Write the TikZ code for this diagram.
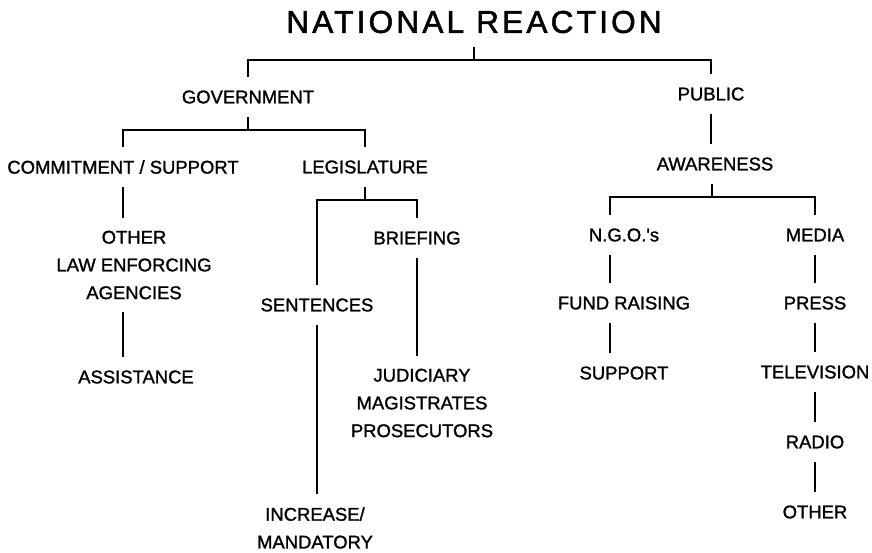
\documentclass[tikz,border=0pt]{standalone}
\usepackage{fontspec}
\setmainfont{Liberation Sans}
\newfontfamily\titlefont[LetterSpace=10,FakeBold=1.6]{Liberation Sans}
\newfontfamily\lblfont[FakeBold=1.3]{Liberation Sans}
\usetikzlibrary{positioning}
\tikzset{
    ttl/.style = {inner sep=0pt, outer sep=8pt, font=\titlefont\fontsize{18}{20}\selectfont},
    lbl/.style = {inner sep=0pt, outer sep=7.5pt, align=center, font=\lblfont\fontsize{10.5}{15.8}\selectfont},
    bar/.style = {line width=1.3pt},
}

\begin{document}
\begin{tikzpicture}[x=0.02cm, y=-0.02cm]
\useasboundingbox (0,0) rectangle (872,552);
\node[ttl] at (474,22) (nat) {NATIONAL REACTION};
\node[lbl] at (248,97) (gov) {GOVERNMENT};
\node[lbl] at (711,94) (pub) {PUBLIC};
% government side
\node[lbl] at (123,167) (com) {COMMITMENT / SUPPORT};
\node[lbl] at (365,167) (leg) {LEGISLATURE};
\node[lbl] at (134,265) (oth) {OTHER\\LAW ENFORCING\\AGENCIES};
\node[lbl] at (136,377) (ast) {ASSISTANCE};
\node[lbl] at (417,238) (brf) {BRIEFING};
\node[lbl] at (317,305) (sen) {SENTENCES};
\node[lbl] at (422,403) (jud) {JUDICIARY\\MAGISTRATES\\PROSECUTORS};
\node[lbl] at (315,528) (inc) {INCREASE/\\MANDATORY};
% public side
\node[lbl] at (715,164) (awa) {AWARENESS};
\node[lbl] at (624,235) (ngo) {N.G.O.'s};
\node[lbl] at (624,303) (fnd) {FUND RAISING};
\node[lbl] at (624,373) (sup) {SUPPORT};
\node[lbl] at (815,235) (med) {MEDIA};
\node[lbl] at (815,303) (prs) {PRESS};
\node[lbl] at (815,372) (tel) {TELEVISION};
\node[lbl] at (815,442) (rad) {RADIO};
\node[lbl] at (815,512) (otr) {OTHER};
%
\coordinate (jtop) at (471,60);
\coordinate (jgov) at (244,130);
\coordinate (jleg) at (368,200);
\coordinate (jawa) at (712,197);
%
\draw[bar] (nat.south) -- (nat.south |- jtop);
\draw[bar] (gov.north) |- (jtop) -| (pub.north);
\draw[bar] (gov.south) -- (gov.south |- jgov);
\draw[bar] (com.north) |- (jgov) -| (leg.north);
\draw[bar] (com.south) -- (com.south |- oth.north);
\draw[bar] (oth.south -| com.south) -- (com.south |- ast.north);
\draw[bar] (leg.south) -- (leg.south |- jleg);
\draw[bar] (sen.north) |- (jleg) -| (brf.north);
\draw[bar] (sen.south) -- (sen.south |- inc.north);
\draw[bar] (brf.south) -- (brf.south |- jud.north);
\draw[bar] (pub.south) -- (pub.south |- awa.north);
\draw[bar] (awa.south -| jawa) -- (jawa);
\draw[bar] ([xshift=-8pt]ngo.north) |- (jawa) -| (med.north);
\draw[bar] ([xshift=-8pt]ngo.south) -- ([xshift=-8pt]fnd.north);
\draw[bar] ([xshift=-8pt]fnd.south) -- ([xshift=-8pt]sup.north);
\foreach \a/\b in {med/prs, prs/tel, tel/rad, rad/otr}
  \draw[bar] (\a.south) -- (\a.south |- \b.north);

\end{tikzpicture}
\end{document}
